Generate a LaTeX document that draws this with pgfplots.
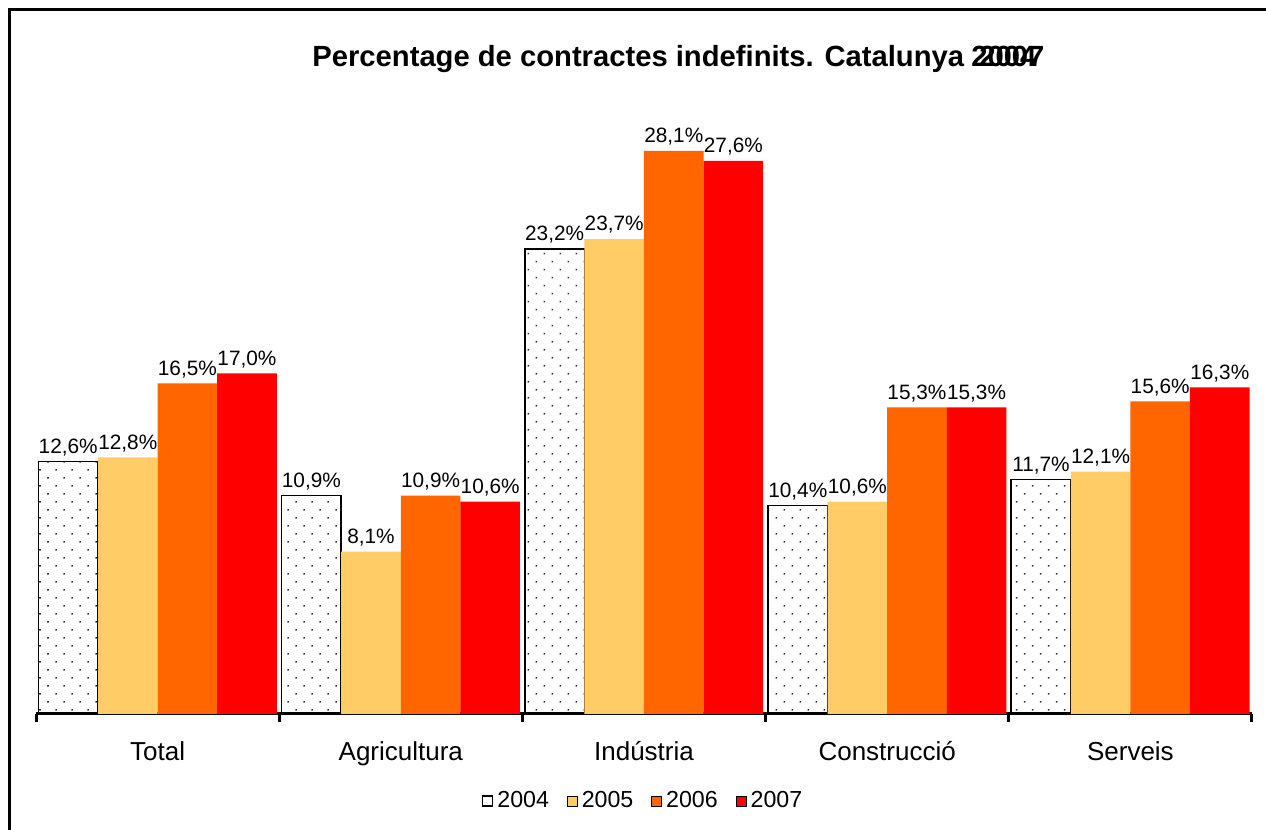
\documentclass[border=0pt]{standalone}
\usepackage{fontspec}
\setmainfont{Liberation Sans}
\usepackage{pgfplots}
\pgfplotsset{compat=1.18}
\usetikzlibrary{patterns.meta}
\definecolor{c2005}{RGB}{255,204,102}
\definecolor{c2006}{RGB}{255,102,0}
\definecolor{c2007}{RGB}{255,0,0}
\begin{document}
\begin{tikzpicture}
\useasboundingbox (0pt,0pt) rectangle (633pt,415pt);
\draw[line width=1.5pt] (4.5pt,-5pt) -- (4.5pt,410pt) -- (640pt,410pt);
\node[anchor=base west, inner sep=0pt, font=\fontsize{14.6}{17}\selectfont\bfseries] at (156pt,381.5pt) {Percentage de contractes indefinits. Catalunya};
\node[anchor=base west, inner sep=0pt, font=\fontsize{14.6}{17}\selectfont\bfseries] at (485.5pt,381.5pt) {2004};
\node[anchor=base west, inner sep=0pt, font=\fontsize{14.6}{17}\selectfont\bfseries] at (489.5pt,381.5pt) {2007};
\begin{axis}[
  at={(18pt,58pt)}, anchor=south west,
  scale only axis, width=608pt, height=300.6pt,
  xmin=-0.5, xmax=4.5, ymin=0, ymax=30,
  ybar=0pt, bar width=0.245,
  axis x line*=bottom, axis y line=none,
  x axis line style={line width=1.5pt, -},
  xtick={0,1,2,3,4},
  xticklabels={Total,Agricultura,Indústria,Construcció,Serveis},
  major x tick style={draw=none},
  minor xtick={-0.5,0.5,1.5,2.5,3.5,4.5},
  minor x tick style={line width=1.5pt, black},
  minor tick length=4pt,
  tick align=outside,
  xticklabel style={font=\fontsize{13}{15}\selectfont, yshift=-6pt},
  clip=false,
  /pgf/number format/assume math mode=true,
  nodes near coords={\pgfmathprintnumber[fixed, fixed zerofill, precision=1, use comma, assume math mode=true]{\pgfplotspointmeta}\%},
  every node near coord/.append style={font=\fontsize{10.4}{12}\selectfont, black, inner sep=2.5pt},
  legend columns=4,
  legend style={at={(0.5,-0.1448)}, anchor=center, draw=none, fill=none,
    font=\fontsize{11.6}{13}\selectfont, /tikz/every even column/.append style={column sep=7pt},
    inner sep=0pt},
  legend image code/.code={\draw[#1] (0pt,-2.5pt) rectangle (5pt,2.5pt);},
]
\addplot[bar shift=-0.3675, draw=black, line width=0.75pt, pattern={Dots[distance=5.66pt, angle=45, radius=0.55pt]}, pattern color=black!80,
  legend image code/.code={\draw[black, line width=0.8pt, fill=white] (0pt,-2.5pt) rectangle (5pt,2.5pt);}]
  coordinates {(0,12.6) (1,10.9) (2,23.2) (3,10.4) (4,11.7)};
\addplot[bar shift=-0.1225, draw=none, fill=c2005]
  coordinates {(0,12.8) (1,8.1) (2,23.7) (3,10.6) (4,12.1)};
\addplot[bar shift=0.1225, draw=none, fill=c2006]
  coordinates {(0,16.5) (1,10.9) (2,28.1) (3,15.3) (4,15.6)};
\addplot[bar shift=0.3675, draw=none, fill=c2007]
  coordinates {(0,17.0) (1,10.6) (2,27.6) (3,15.3) (4,16.3)};
\legend{2004,2005,2006,2007}
\end{axis}
\end{tikzpicture}
\end{document}
